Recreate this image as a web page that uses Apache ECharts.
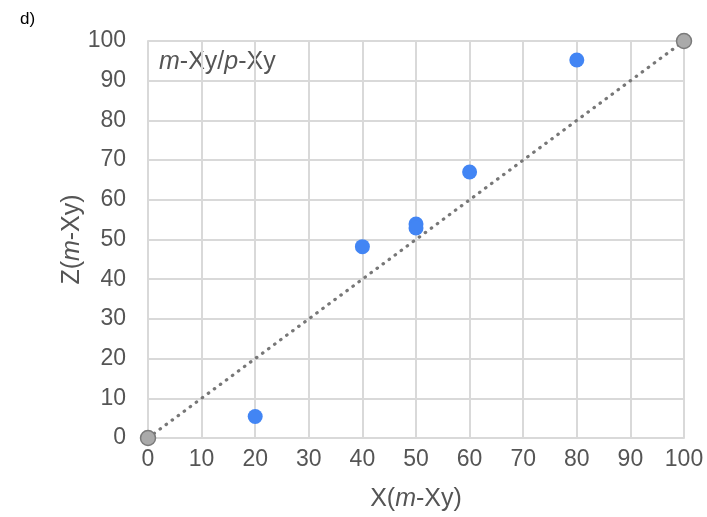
<!DOCTYPE html>
<html>
<head>
<meta charset="utf-8">
<script src="https://cdn.jsdelivr.net/npm/echarts@6/dist/echarts.min.js"></script>
<style>
  html, body { margin: 0; padding: 0; background: #fff; }
  #chart { width: 707px; height: 517px; }
</style>
</head>
<body>
<div id="chart"></div>
<script>
// 数据
var xValues = [20, 40, 50, 50, 60, 80];
var zValues = [5.4, 48.2, 53.9, 52.9, 67.0, 95.2];
var refX = [0, 100];
var refZ = [0, 100];

var pts = xValues.map(function (x, i) { return [x, zValues[i]]; });
var refLine = refX.map(function (x, i) { return [x, refZ[i]]; });

var gridColor = "#d9d9d9";
var font = "Liberation Sans, Arial, sans-serif";

var chart = echarts.init(document.getElementById("chart"));
var option = {
  backgroundColor: "#fff",
  animation: false,
  grid: { left: 148, right: 23, top: 41, bottom: 79 },
  xAxis: {
    type: "value",
    min: 0, max: 100, interval: 10,
    name: "{n|X(}{i|m}{n|-Xy)}",
    nameLocation: "middle",
    nameGap: 49,
    nameMoveOverlap: false,
    nameTextStyle: {
      rich: {
        n: { fontSize: 25, color: "#555", fontFamily: font },
        i: { fontSize: 25, color: "#555", fontFamily: font, fontStyle: "italic" }
      }
    },
    axisLine: { lineStyle: { color: gridColor, width: 2 } },
    axisTick: { show: false },
    axisLabel: { color: "#555", fontSize: 23, fontFamily: font, margin: 10 },
    splitLine: { lineStyle: { color: gridColor, width: 2 } }
  },
  yAxis: {
    type: "value",
    min: 0, max: 100, interval: 10,
    name: "{n|Z(}{i|m}{n|-Xy)}",
    nameLocation: "middle",
    nameGap: 63,
    nameRotate: 90,
    nameMoveOverlap: false,
    nameTextStyle: {
      rich: {
        n: { fontSize: 25, color: "#555", fontFamily: font },
        i: { fontSize: 25, color: "#555", fontFamily: font, fontStyle: "italic" }
      }
    },
    axisLine: { show: true, lineStyle: { color: gridColor, width: 2 } },
    axisTick: { show: false },
    axisLabel: { color: "#555", fontSize: 23, fontFamily: font, margin: 22 },
    splitLine: { lineStyle: { color: gridColor, width: 2 } }
  },
  graphic: [
    {
      type: "text", left: 20, top: 11,
      style: { text: "d)", font: "17px Liberation Sans, Arial, sans-serif", fill: "#000" }
    },
    {
      type: "text", left: 159, top: 50,
      style: {
        text: "{i|m}{n|-Xy/}{i|p}{n|-Xy}",
        rich: {
          n: { fontSize: 25, fill: "#555", fontFamily: font },
          i: { fontSize: 25, fill: "#555", fontFamily: font, fontStyle: "italic" }
        }
      }
    }
  ],
  series: [
    {
      type: "line",
      data: refLine,
      symbol: "circle",
      symbolSize: 15,
      itemStyle: { color: "#aaaaaa", borderColor: "#7a7a7a", borderWidth: 1.5 },
      lineStyle: { color: "#777", width: 3.2, type: [0.5, 7], cap: "round" },
      z: 2
    },
    {
      type: "scatter",
      data: pts,
      symbol: "circle",
      symbolSize: 15,
      itemStyle: { color: "#4285f4", opacity: 1 },
      z: 3
    }
  ]
};
chart.setOption(option);
</script>
</body>
</html>
